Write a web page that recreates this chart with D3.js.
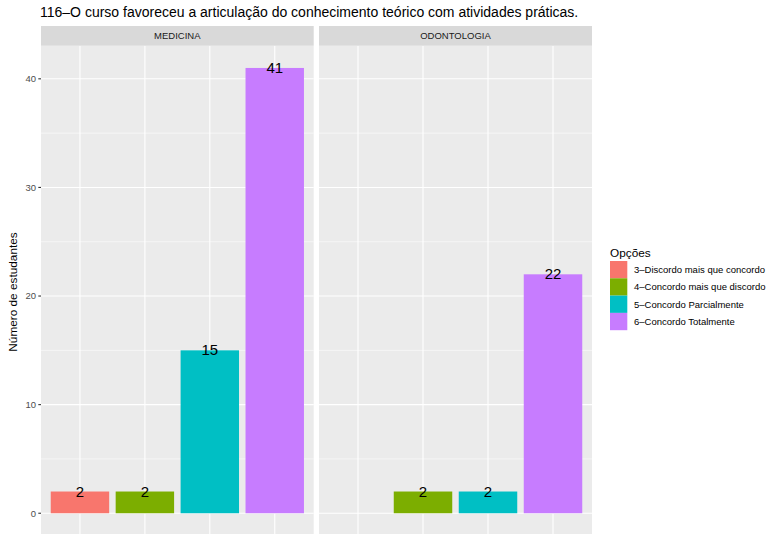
<!DOCTYPE html>
<html><head><meta charset="utf-8">
<script src="https://cdn.jsdelivr.net/npm/d3@7"></script>
<style>body{margin:0;background:#fff}svg{display:block}text{font-family:"Liberation Sans",Arial,sans-serif}</style>
</head><body>
<script>
const title = "116–O curso favoreceu a articulação do conhecimento teórico com atividades práticas.";
const categories = ["3–Discordo mais que concordo","4–Concordo mais que discordo","5–Concordo Parcialmente","6–Concordo Totalmente"];
const colors = ["#F8766D","#7CAE00","#00BFC4","#C77CFF"];
const panels = ["MEDICINA","ODONTOLOGIA"];
const medicinaValues = [2,2,15,41];
const odontologiaValues = [null,2,2,22];
const yTicks = [0,10,20,30,40];
const yMinor = [5,15,25,35];
const yTitle = "Número de estudantes";
const legendTitle = "Opções";

const W=769,H=534;
const svg=d3.select("body").append("svg").attr("width",W).attr("height",H);
const panelX=[[41,313.7],[319,592]];
const stripTop=26, stripBottom=45.7;
const y=d3.scaleLinear().domain([-2.05,43.05]).range([535.5,stripBottom]);
const seriesByPanel=[medicinaValues,odontologiaValues];

svg.append("text").attr("x",40).attr("y",17).attr("font-size",14).attr("fill","#000").text(title);

panels.forEach((p,i)=>{
  const [x0,x1]=panelX[i];
  const x=d3.scalePoint().domain(categories).range([x0,x1]).padding(0.6);
  const step=x.step();
  const g=svg.append("g");
  g.append("rect").attr("x",x0).attr("y",stripBottom).attr("width",x1-x0).attr("height",y(-2.05)-stripBottom).attr("fill","#EBEBEB");
  g.selectAll(".mn").data(yMinor).join("line").attr("x1",x0).attr("x2",x1).attr("y1",d=>y(d)).attr("y2",d=>y(d)).attr("stroke","#fff").attr("stroke-width",0.55);
  g.selectAll(".mj").data(yTicks).join("line").attr("x1",x0).attr("x2",x1).attr("y1",d=>y(d)).attr("y2",d=>y(d)).attr("stroke","#fff").attr("stroke-width",1.1);
  g.selectAll(".vx").data(categories).join("line").attr("x1",d=>x(d)).attr("x2",d=>x(d)).attr("y1",stripBottom).attr("y2",H).attr("stroke","#fff").attr("stroke-width",1.1);
  g.append("rect").attr("x",x0).attr("y",stripTop).attr("width",x1-x0).attr("height",stripBottom-stripTop).attr("fill","#D9D9D9");
  g.append("text").attr("x",(x0+x1)/2).attr("y",(stripTop+stripBottom)/2+3.3).attr("text-anchor","middle").attr("font-size",9.5).attr("fill","#1A1A1A").text(p);
  const data=categories.map((c,k)=>({c,v:seriesByPanel[i][k],col:colors[k]})).filter(d=>d.v!=null);
  const bw=step*0.9;
  g.selectAll(".bar").data(data).join("rect").attr("x",d=>x(d.c)-bw/2).attr("width",bw).attr("y",d=>y(d.v)).attr("height",d=>y(0)-y(d.v)).attr("fill",d=>d.col);
  g.selectAll(".lbl").data(data).join("text").attr("x",d=>x(d.c)).attr("y",d=>y(d.v)+5).attr("text-anchor","middle").attr("font-size",15).attr("fill","#000").text(d=>d.v);
});

// y axis
const ax=svg.append("g");
ax.selectAll("line").data(yTicks).join("line").attr("x1",38.3).attr("x2",41).attr("y1",d=>y(d)).attr("y2",d=>y(d)).attr("stroke","#333").attr("stroke-width",1.1);
ax.selectAll("text").data(yTicks).join("text").attr("x",36).attr("y",d=>y(d)+3.3).attr("text-anchor","end").attr("font-size",9.5).attr("fill","#4D4D4D").text(d=>d);
svg.append("text").attr("transform",`translate(17,292) rotate(-90)`).attr("text-anchor","middle").attr("font-size",11.8).attr("fill","#000").text(yTitle);

// legend
const lg=svg.append("g");
lg.append("text").attr("x",610).attr("y",257).attr("font-size",11.8).attr("fill","#000").text(legendTitle);
categories.forEach((c,k)=>{
  const ty=261+k*17.3;
  lg.append("rect").attr("x",610).attr("y",ty).attr("width",17.3).attr("height",17.3).attr("fill",colors[k]);
  lg.append("text").attr("x",634).attr("y",ty+12).attr("font-size",9.5).attr("fill","#000").text(c);
});
</script>
</body></html>
